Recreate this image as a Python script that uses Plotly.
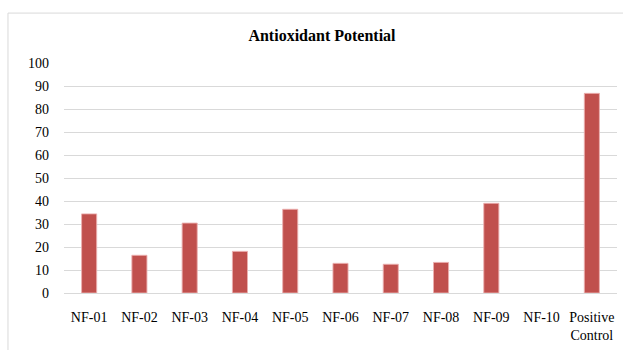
import plotly.graph_objects as go

# Antioxidant potential (%) per sample
categories = ["NF-01", "NF-02", "NF-03", "NF-04", "NF-05", "NF-06",
              "NF-07", "NF-08", "NF-09", "NF-10", "Positive<br>Control"]
values = [34.4, 16.4, 30.4, 18.1, 36.4, 12.9, 12.5, 13.3, 39.0, 0.0, 86.8]
y_ticks = list(range(0, 101, 10))

BAR = "#c0504d"
GRID = "#d9d9d9"
FONT = "Liberation Serif, Times New Roman, serif"

# no outline on empty bars so a zero value leaves nothing visible
edge_widths = [1 if v > 0 else 0 for v in values]

fig = go.Figure(
    go.Bar(
        x=categories,
        y=values,
        marker=dict(color=BAR,
                    line=dict(color="rgba(235,175,175,0.9)", width=edge_widths)),
        hoverinfo="x+y",
    )
)

fig.update_layout(
    width=623,
    height=350,
    margin=dict(l=64, r=6, t=63, b=57),
    paper_bgcolor="white",
    plot_bgcolor="white",
    bargap=0.7,
    showlegend=False,
    font=dict(family=FONT, size=14, color="#000000"),
    title=dict(
        text="<b>Antioxidant Potential</b>",
        x=0.4665,
        xref="paper",
        xanchor="center",
        y=0.9,
        yref="container",
        yanchor="middle",
        font=dict(family=FONT, size=16, color="#000000"),
    ),
    shapes=[
        dict(
            type="rect",
            xref="paper", yref="paper",
            x0=-0.1013, x1=1.03, y0=-0.3, y1=1.217,
            line=dict(color=GRID, width=1),
            fillcolor="rgba(0,0,0,0)",
            layer="below",
        )
    ],
)

fig.update_xaxes(
    showgrid=False,
    showline=True,
    linecolor=GRID,
    linewidth=1,
    ticks="",
    ticklabelstandoff=11,
    tickfont=dict(family=FONT, size=14, color="#000000"),
)

fig.update_yaxes(
    range=[0, 100],
    tickvals=y_ticks,
    showgrid=True,
    gridcolor=GRID,
    gridwidth=1,
    zeroline=False,
    showline=False,
    ticks="",
    ticklabelstandoff=14,
    tickfont=dict(family=FONT, size=14, color="#000000"),
)

fig.write_html("out.html")
